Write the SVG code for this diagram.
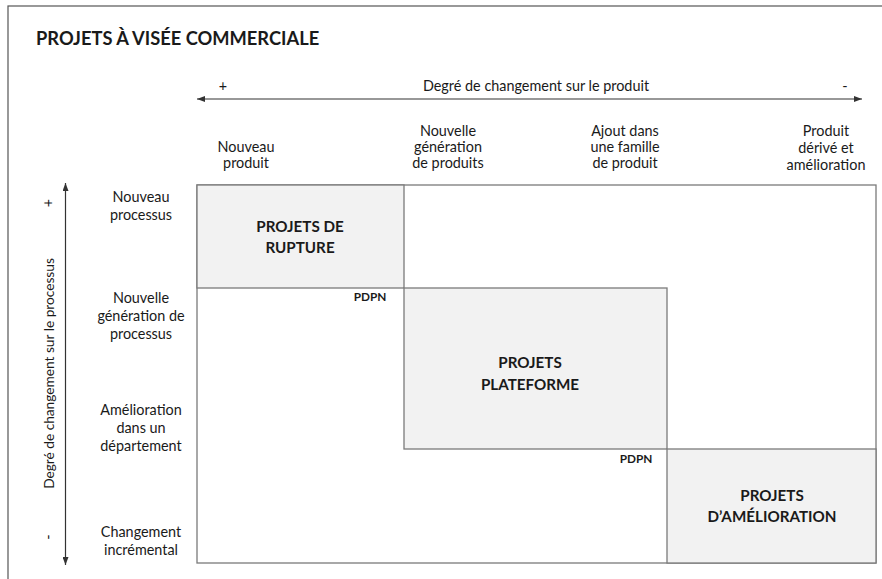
<svg xmlns="http://www.w3.org/2000/svg" width="882" height="579" viewBox="0 0 882 579">
<style>
text{font-family:Lato,"Open Sans","Liberation Sans",sans-serif;fill:#1a1a1a}
.lbl{font-size:14.4px;text-anchor:middle}
.box{fill:#f2f2f2;stroke:#7a7a7a;stroke-width:1.3}
.ln{fill:none;stroke:#7a7a7a;stroke-width:1.3}
.big{font-size:15.2px;font-weight:bold;text-anchor:middle}
.pd{font-size:11.8px;font-weight:bold;text-anchor:middle}
.ax{stroke:#333;stroke-width:1.2;fill:none}
</style>
<defs>
<marker id="ah" viewBox="0 0 8 6" refX="8" refY="3" markerWidth="8" markerHeight="6" markerUnits="userSpaceOnUse" orient="auto-start-reverse">
<path d="M0,0 L8,3 L0,6 Z" fill="#333"/>
</marker>
</defs>
<rect x="0" y="0" width="882" height="579" fill="#fff"/>
<rect x="8" y="6" width="880" height="590" fill="none" stroke="#555" stroke-width="1.2"/>
<text x="36" y="45" style="font-size:18.3px;font-weight:bold">PROJETS À VISÉE COMMERCIALE</text>
<g id="connectors">
<line class="ax" x1="197" y1="99" x2="862" y2="99" marker-start="url(#ah)" marker-end="url(#ah)"/>
<line class="ax" x1="65.5" y1="183" x2="65.5" y2="565" marker-start="url(#ah)" marker-end="url(#ah)"/>
</g>
<g id="axis-labels">
<text class="lbl" x="223" y="91">+</text>
<text class="lbl" x="536" y="91">Degré de changement sur le produit</text>
<text class="lbl" x="845" y="91">-</text>
<text class="lbl" x="57" y="207" transform="rotate(-90 53 207)">+</text>
<text class="lbl" transform="translate(54 373.5) rotate(-90)" style="font-size:13.7px">Degré de changement sur le processus</text>
<text class="lbl" x="57" y="541" transform="rotate(-90 53 541)">-</text>
</g>
<g id="col-headers">
<text class="lbl" x="246" y="152">Nouveau</text>
<text class="lbl" x="246" y="168">produit</text>
<text class="lbl" x="448" y="136">Nouvelle</text>
<text class="lbl" x="448" y="152">génération</text>
<text class="lbl" x="448" y="168">de produits</text>
<text class="lbl" x="625" y="136">Ajout dans</text>
<text class="lbl" x="625" y="152">une famille</text>
<text class="lbl" x="625" y="168">de produit</text>
<text class="lbl" x="826" y="136">Produit</text>
<text class="lbl" x="826" y="153">dérivé et</text>
<text class="lbl" x="826" y="170">amélioration</text>
</g>
<g id="row-headers">
<text class="lbl" x="141" y="202">Nouveau</text>
<text class="lbl" x="141" y="220">processus</text>
<text class="lbl" x="141" y="303">Nouvelle</text>
<text class="lbl" x="141" y="321">génération de</text>
<text class="lbl" x="141" y="339">processus</text>
<text class="lbl" x="141" y="415">Amélioration</text>
<text class="lbl" x="141" y="433">dans un</text>
<text class="lbl" x="141" y="451">département</text>
<text class="lbl" x="141" y="537">Changement</text>
<text class="lbl" x="141" y="555">incrémental</text>
</g>
<g id="grid">
<rect class="ln" x="197" y="185" width="679" height="378" fill="#fff"/>
</g>
<g id="projets-rupture">
<rect class="box" x="197" y="185" width="207" height="103"/>
<text class="big" x="300" y="232">PROJETS DE</text>
<text class="big" x="300" y="253">RUPTURE</text>
</g>
<g id="projets-plateforme">
<rect class="box" x="404" y="288" width="263" height="161"/>
<text class="big" x="530" y="368">PROJETS</text>
<text class="big" x="530" y="389.5">PLATEFORME</text>
</g>
<g id="projets-amelioration">
<rect class="box" x="667" y="449" width="209" height="114"/>
<text class="big" x="772" y="500.5">PROJETS</text>
<text class="big" x="772" y="522">D’AMÉLIORATION</text>
</g>
<g id="pdpn">
<text class="pd" x="370" y="301">PDPN</text>
<text class="pd" x="636" y="463">PDPN</text>
</g>
</svg>
